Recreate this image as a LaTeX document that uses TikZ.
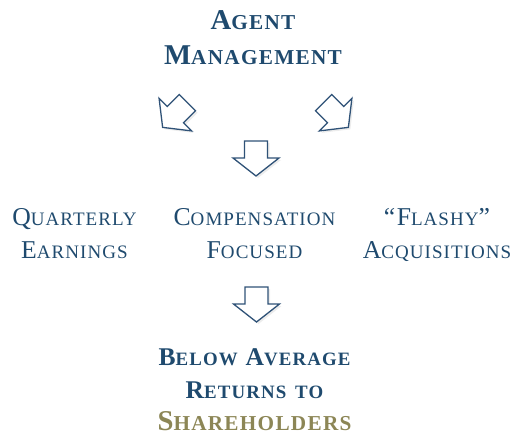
\documentclass[tikz,border=0pt]{standalone}
\usepackage{fontspec}
\setmainfont{Liberation Serif}
\usetikzlibrary{shadows}

\definecolor{agentblue}{HTML}{1F4A6E}
\definecolor{arrowblue}{HTML}{2F5277}
\definecolor{holdergold}{HTML}{8C8656}

% first letter big, the rest as small capitals
\newdimen\capdim
\makeatletter
\newcommand{\capword}[2]{#1{\capdim=\f@size pt \capdim=0.74\capdim
  \fontsize{\capdim}{\capdim}\selectfont #2}}
\makeatother

\tikzset{
  toptext/.style={align=center, anchor=base, text=agentblue,
    font=\bfseries\fontsize{28.7}{35}\selectfont\addfontfeature{LetterSpace=6}},
  midtext/.style={align=center, anchor=base, text=agentblue,
    font=\fontsize{25.7}{33}\selectfont\addfontfeature{LetterSpace=5.5}},
  bottomtext/.style={align=center, anchor=base, text=agentblue,
    font=\bfseries\fontsize{25.5}{32.5}\selectfont\addfontfeature{LetterSpace=6}},
  arrowline/.style={draw=arrowblue, line width=1.3pt, fill=white, line join=miter,
    drop shadow={shadow xshift=2pt, shadow yshift=-2pt, opacity=0.15}},
  downarrow/.pic={
    \draw[arrowline] (-11.5,-17.5) -- (11.5,-17.5) -- (11.5,-0.5) -- (23,-0.5)
      -- (0,17.5) -- (-23,-0.5) -- (-11.5,-0.5) -- cycle;
  }
}

\begin{document}
\begin{tikzpicture}[x=1pt, y=-1pt]
\useasboundingbox (0,0) rectangle (513,436);

% anchor=base sits on the last line
\node[toptext] (agent) at (253,64) {\capword{A}{GENT}\\\capword{M}{ANAGEMENT}};

\pic (leftarrow) at (175,115) [rotate=-45] {downarrow};
\pic (rightarrow) at (336,115) [rotate=45] {downarrow};
\pic (middlearrow) at (256,158.5) {downarrow};

\node[midtext] (quarterly) at (74.5,258) {\capword{Q}{UARTERLY}\\\capword{E}{ARNINGS}};
\node[midtext] (compensation) at (254.5,258) {\capword{C}{OMPENSATION}\\\capword{F}{OCUSED}};
\node[midtext] (flashy) at (437,258) {\capword{“F}{LASHY}”\\\capword{A}{CQUISITIONS}};

\pic (lowerarrow) at (256.5,304.5) {downarrow};

\node[bottomtext] (returns) at (254.5,430.5) {\capword{B}{ELOW} \capword{A}{VERAGE}\\
  \capword{R}{ETURNS\hspace{3pt} TO}\\
  \fontsize{28.7}{32.5}\selectfont\textcolor{holdergold}{\capword{S}{HAREHOLDERS}}};
\end{tikzpicture}
\end{document}
